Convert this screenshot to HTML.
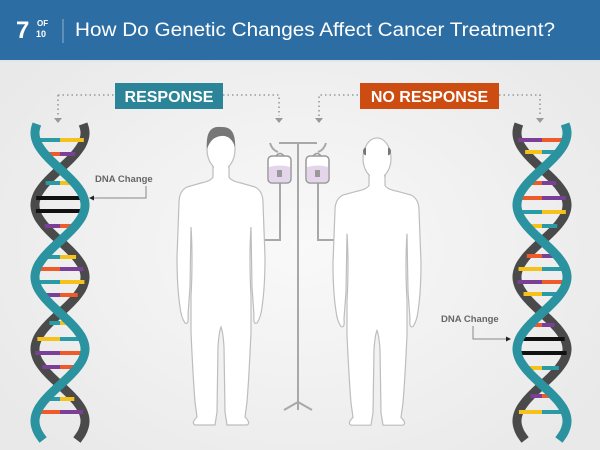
<!DOCTYPE html>
<html><head><meta charset="utf-8"><style>
html,body{margin:0;padding:0;width:600px;height:450px;overflow:hidden}
svg{display:block}
</style></head><body>
<svg id="s" width="600" height="450" viewBox="0 0 600 450" xmlns="http://www.w3.org/2000/svg" font-family="Liberation Sans, sans-serif">
<defs>
<radialGradient id="bg" cx="0.5" cy="0.55" r="0.6">
<stop offset="0" stop-color="#f9f9f9"/><stop offset="1" stop-color="#e9e9e9"/>
</radialGradient>
<g id="man" fill="#fff" stroke="#bdbdbd" stroke-width="1.2">
<path d="M-8 38 L-8 50 Q-10 54 -20 56 L-34 60 Q-42 64 -42 76 L-44 130 Q-44 160 -41 180 Q-40 190 -36 196 Q-32 198 -33 188 L-31 160 L-30 100 Q-28 130 -30 170 L-30 205 Q-28 250 -26 275 L-24 290 Q-30 296 -26 298 L-6 298 L-4 285 L-3 220 Q-2 205 0 200 Q2 205 3 220 L4 285 L6 298 L26 298 Q30 296 24 290 L26 275 Q28 250 30 205 L30 170 Q28 130 30 100 L31 160 L33 188 Q32 198 36 196 Q40 190 41 180 Q44 160 44 130 L42 76 Q42 64 34 60 L20 56 Q10 54 8 50 L8 38 Z"/>
</g>
</defs>
<rect width="600" height="450" fill="url(#bg)"/>
<rect width="600" height="60" fill="#2c6ea3"/>
<rect y="60" width="600" height="2" fill="#dfe6ec"/>
<text x="16" y="38" fill="#fff" font-size="24" font-weight="bold">7</text>
<text x="37" y="26" fill="#fff" font-size="8" font-weight="bold">OF</text>
<text x="36" y="37" fill="#fff" font-size="9" font-weight="bold">10</text>
<line x1="63" y1="19" x2="63" y2="43" stroke="#8fb3d2" stroke-width="1"/>
<text x="75" y="36" fill="#fff" font-size="19" textLength="480" lengthAdjust="spacingAndGlyphs">How Do Genetic Changes Affect Cancer Treatment?</text>

<g stroke="#999" stroke-width="1.6" stroke-dasharray="1.5 3" fill="none">
<path d="M58 95 H115 M223 95 H279 V116 M58 95 V116 M319 116 V95 H360 M499 95 H540 V116"/>
</g>
<g fill="#999">
<path d="M54 118 h8 l-4 5z M275 118 h8 l-4 5z M315 118 h8 l-4 5z M536 118 h8 l-4 5z"/>
</g>
<rect x="115" y="83" width="108" height="26" fill="#2b8497"/>
<text x="169" y="102" fill="#fff" font-size="16" font-weight="bold" text-anchor="middle">RESPONSE</text>
<rect x="360" y="83" width="139" height="26" fill="#cc4c12"/>
<text x="429.5" y="102" fill="#fff" font-size="16" font-weight="bold" text-anchor="middle">NO RESPONSE</text>

<!-- IV pole -->
<g stroke="#a8a8a8" stroke-width="2" fill="none">
<line x1="298" y1="143" x2="298" y2="405"/>
<path d="M270 143 Q272 150 278 152 M279 143 H317 M326 143 Q324 150 318 152"/>
<path d="M298 402 L284 410 M298 402 L312 410 M298 402 V410"/>
<path d="M280 182 V240 H262"/>
<path d="M318 182 V240 H336"/>
</g>
<g stroke="#999" stroke-width="1.5">
<rect x="268" y="156" width="23" height="27" rx="4" fill="#fff"/>
<rect x="306" y="156" width="23" height="27" rx="4" fill="#fff"/>
<path d="M269 167 q11 -3 21 0 v12 q0 3 -4 3 h-13 q-4 0 -4 -3z" fill="#e5d5ea" stroke="none"/>
<path d="M307 167 q11 -3 21 0 v12 q0 3 -4 3 h-13 q-4 0 -4 -3z" fill="#e5d5ea" stroke="none"/>
<path d="M276 156 q4 -5 8 0 M313 156 q4 -5 8 0" fill="none"/>
</g>
<rect x="277" y="170" width="5" height="7" fill="#999"/>
<rect x="315" y="170" width="5" height="7" fill="#999"/>

<g transform="translate(221,127)">
<use href="#man"/>
<ellipse cx="0" cy="22" rx="14" ry="21" fill="#fff" stroke="#bdbdbd" stroke-width="1.2"/>
<rect x="-7" y="38" width="14" height="14" fill="#fff"/>
<path d="M-14 22 Q-16 -2 0 0 Q15 -1 14 20 Q10 8 0 9 Q-10 10 -14 22z" fill="#777"/>
</g>
<g transform="translate(377,137) scale(1,0.967)">
<use href="#man"/>
<ellipse cx="0" cy="22" rx="14" ry="21" fill="#fff" stroke="#bdbdbd" stroke-width="1.2"/>
<rect x="-7" y="38" width="14" height="14" fill="#fff"/>
<path d="M-14 14 q1 -3 3 -3 v8 q-3 0 -3 -5z M14 14 q-1 -3 -3 -3 v8 q3 0 3 -5z" fill="#777"/>
</g>

<g id="h1"></g><g id="h2"></g>

<text x="95" y="182" fill="#666" font-size="9.5" font-weight="bold">DNA Change</text>
<path d="M146 186 V198 H92" fill="none" stroke="#888" stroke-width="1"/>
<path d="M89 198 l5 -2.5 v5z" fill="#222"/>
<text x="441" y="322" fill="#666" font-size="9.5" font-weight="bold">DNA Change</text>
<path d="M473 326 V339 H508" fill="none" stroke="#888" stroke-width="1"/>
<path d="M511 339 l-5 -2.5 v5z" fill="#222"/>
</svg>
<script>
var C={t:"#2a9aa5",y:"#f5c21b",o:"#ee5a2a",p:"#7c3f98",k:"#111"};
function helix(id,cx,phase,rungs){
 var g=document.getElementById(id),A=25,h="";
 function x(y,s){return cx+s*A*Math.cos(Math.PI*(y-133)/72)*phase;}
 function path(s){var d="";for(var y=124;y<=441;y+=2){d+=(d?"L":"M")+x(y,s).toFixed(1)+" "+y+" ";}return d;}
 h+='<path d="'+path(1)+'" fill="none" stroke="#4a4a4a" stroke-width="9"/>';
 rungs.forEach(function(r){var y=r[0],a=x(y,-1),b=x(y,1),l=Math.min(a,b),R=Math.max(a,b),m=(l+R)/2;
  if(r[1]=="k"){h+='<rect x="'+l+'" y="'+(y-2)+'" width="'+(R-l)+'" height="4" fill="#111"/>';}
  else{h+='<rect x="'+l+'" y="'+(y-2)+'" width="'+(m-l)+'" height="4" fill="'+C[r[1]]+'"/><rect x="'+m+'" y="'+(y-2)+'" width="'+(R-m)+'" height="4" fill="'+C[r[2]]+'"/>';}
 });
 h+='<path d="'+path(-1)+'" fill="none" stroke="#2a939f" stroke-width="9"/>';
 g.innerHTML=h;
}
helix("h1",60,1,[[140,"t","y"],[154,"o","p"],[183,"t","y"],[198,"k"],[211,"k"],[226,"p","o"],[257,"t","y"],[269,"o","p"],[282,"t","y"],[295,"p","o"],[323,"t","y"],[339,"y","t"],[353,"p","o"],[367,"p","o"],[399,"t","y"],[412,"o","p"]]);
helix("h2",542,-1,[[140,"p","o"],[152,"y","t"],[183,"o","p"],[198,"o","p"],[212,"t","y"],[226,"y","t"],[256,"o","p"],[269,"y","t"],[282,"p","o"],[294,"y","t"],[325,"o","p"],[339,"k"],[353,"k"],[368,"y","t"],[396,"p","o"],[412,"y","t"]]);
</script>
</body></html>
